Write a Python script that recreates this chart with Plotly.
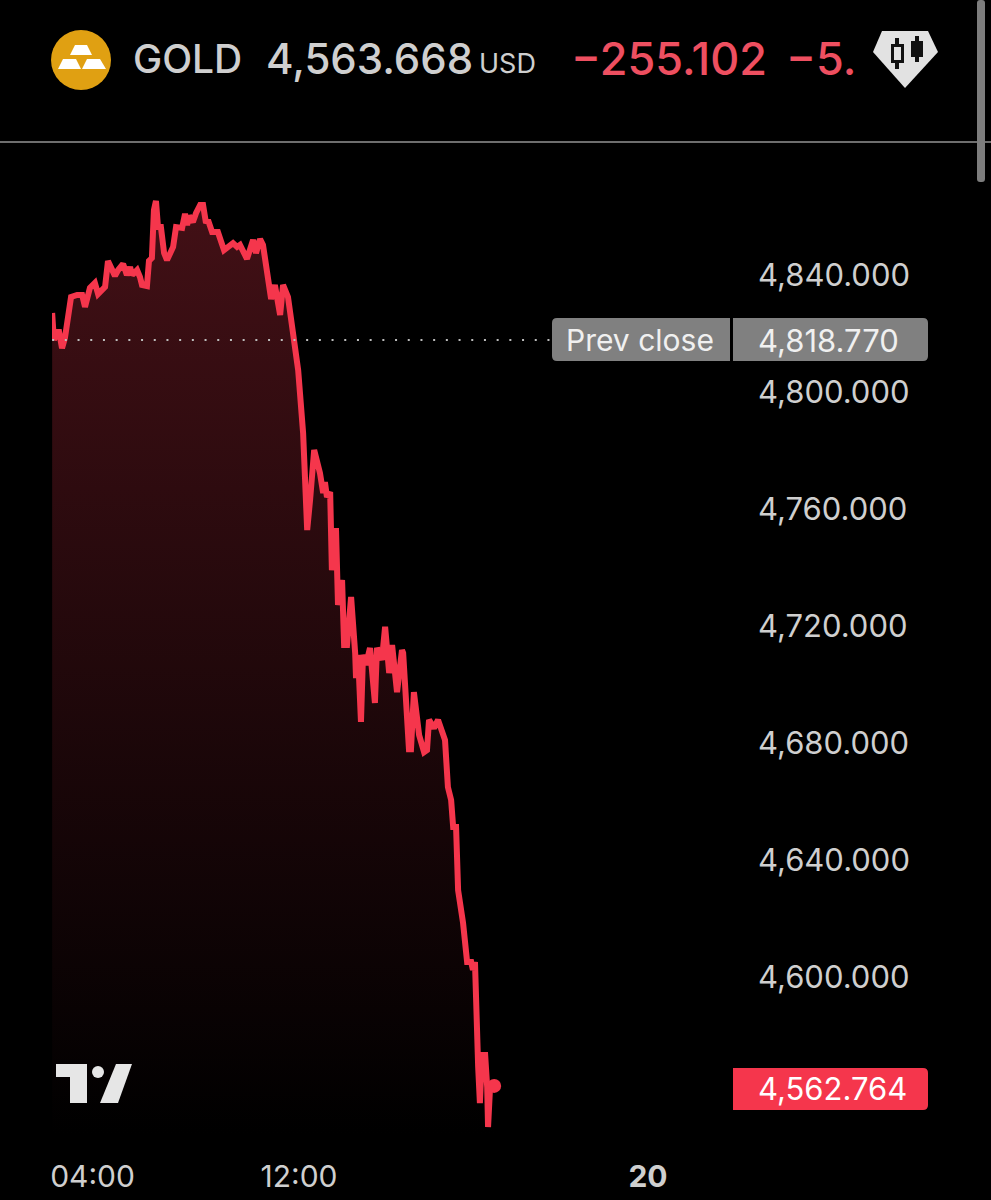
import plotly.graph_objects as go

# hours since midnight of the session day (24 = the "20" date tick)
hours = [
    3.51, 3.57, 3.68, 3.75, 3.85, 3.95, 4.16, 4.37, 4.54, 4.64, 4.81, 4.98, 5.09, 5.22, 5.33,
    5.43, 5.53, 5.67, 5.78, 5.95, 6.08, 6.19, 6.26, 6.43, 6.53, 6.60, 6.77, 6.84, 6.94, 7.01,
    7.08, 7.15, 7.25, 7.36, 7.46, 7.67, 7.77, 7.98, 8.08, 8.15, 8.22, 8.35, 8.46, 8.60, 8.70,
    8.80, 8.87, 9.01, 9.21, 9.42, 9.73, 9.87, 9.97, 10.21, 10.42, 10.52, 10.66, 10.76, 11.04, 11.17,
    11.35, 11.45, 11.62, 11.79, 11.97, 12.14, 12.28, 12.38, 12.52, 12.72, 12.83, 12.89, 12.96, 13.07, 13.13,
    13.27, 13.34, 13.48, 13.55, 13.65, 13.79, 13.93, 13.96, 14.03, 14.13, 14.20, 14.30, 14.44, 14.61, 14.68,
    14.85, 14.96, 15.10, 15.20, 15.37, 15.54, 15.58, 15.78, 15.85, 15.95, 16.13, 16.30, 16.40, 16.47, 16.64,
    16.78, 17.02, 17.12, 17.23, 17.30, 17.40, 17.47, 17.64, 17.78, 17.92, 17.98, 18.05, 18.16, 18.22, 18.29,
    18.40, 18.47, 18.50, 18.57, 18.71,
]
prices = [
    4827.0, 4817.8, 4820.5, 4820.5, 4815.0, 4818.5, 4832.5, 4833.2, 4833.2, 4829.1, 4835.6, 4837.3, 4833.5, 4835.2, 4835.9,
    4844.8, 4842.7, 4839.7, 4841.7, 4843.8, 4840.0, 4842.7, 4840.0, 4841.7, 4839.3, 4836.6, 4836.2, 4844.8, 4845.8, 4862.2,
    4865.3, 4856.4, 4856.4, 4847.5, 4845.1, 4849.6, 4856.4, 4856.1, 4860.9, 4857.1, 4860.2, 4858.1, 4861.2, 4863.9, 4863.9,
    4857.8, 4858.8, 4854.7, 4854.7, 4848.5, 4850.9, 4849.6, 4850.3, 4845.5, 4852.0, 4847.5, 4852.3, 4850.3, 4831.8, 4836.6,
    4826.3, 4836.6, 4832.5, 4820.2, 4807.5, 4786.0, 4752.8, 4763.1, 4780.2, 4772.3, 4765.5, 4769.2, 4764.1, 4765.8, 4739.1,
    4753.5, 4727.2, 4735.7, 4713.5, 4713.5, 4729.9, 4710.8, 4702.2, 4710.1, 4687.2, 4710.1, 4706.7, 4712.5, 4693.7, 4712.5,
    4708.4, 4719.7, 4703.9, 4713.5, 4697.4, 4711.8, 4710.8, 4677.9, 4677.9, 4697.4, 4682.7, 4676.9, 4677.6, 4687.9, 4685.1,
    4687.9, 4681.0, 4664.9, 4660.5, 4651.3, 4651.3, 4629.7, 4618.5, 4605.1, 4605.1, 4602.4, 4605.1, 4569.2, 4556.9, 4573.3,
    4573.3, 4562.4, 4548.7, 4562.4, 4562.76,
]
# where the dotted line sits in the picture, the tag itself reads 4,818.770
prev_close = 4817.8
prev_close_span = [3.51, 20.7]

price_ticks = [4600, 4640, 4680, 4720, 4760, 4800, 4840]
price_labels = ["4,600.000", "4,640.000", "4,680.000", "4,720.000", "4,760.000", "4,800.000", "4,840.000"]
# the app pushes 04:00 inwards so it stays on screen, hence 4.9 and not 4
time_ticks = [4.9, 12, 24]
time_labels = ["04:00", "12:00", "<b>20</b>"]

FONT = "Inter"
RED = "#f5364c"
TEXT = "#cfcfcf"
TAG_GREY = "#808080"

# plot area in page pixels
LEFT, RIGHT, TOP, BOTTOM = 52, 730, 190, 1140


def px(x):
    return (x - LEFT) / (RIGHT - LEFT)


def py(y):
    return (BOTTOM - y) / (BOTTOM - TOP)


def poly(points, color):
    path = "M " + " L ".join(f"{px(x):.5f},{py(y):.5f}" for x, y in points) + " Z"
    return dict(type="path", xref="paper", yref="paper", path=path,
                fillcolor=color, line=dict(width=0), layer="above")


def ellipse(x0, y0, x1, y1, color):
    return dict(type="circle", xref="paper", yref="paper", x0=px(x0), x1=px(x1), y0=py(y1), y1=py(y0),
                fillcolor=color, line=dict(width=0), layer="above")


def box(x0, y0, x1, y1, color):
    return poly([(x0, y0), (x1, y0), (x1, y1), (x0, y1)], color)


def tag(x0, y0, x1, y1, color, left_r=0, right_r=0):
    # rounded only on the outer side, the two grey halves butt against each other
    p = lambda x, y: f"{px(x):.5f},{py(y):.5f}"
    path = (f"M {p(x0 + left_r, y0)} L {p(x1 - right_r, y0)} Q {p(x1, y0)} {p(x1, y0 + right_r)} "
            f"L {p(x1, y1 - right_r)} Q {p(x1, y1)} {p(x1 - right_r, y1)} L {p(x0 + left_r, y1)} "
            f"Q {p(x0, y1)} {p(x0, y1 - left_r)} L {p(x0, y0 + left_r)} Q {p(x0, y0)} {p(x0 + left_r, y0)} Z")
    return dict(type="path", xref="paper", yref="paper", path=path,
                fillcolor=color, line=dict(width=0), layer="above")


def label(x, y, text, size, color=TEXT, anchor="left", weight=400):
    return dict(xref="paper", yref="paper", x=px(x), y=py(y), text=text, showarrow=False,
                xanchor=anchor, yanchor="middle", xshift=-3,
                font=dict(family=FONT, size=size, color=color, weight=weight))


fig = go.Figure()
fig.add_trace(go.Scatter(
    x=hours, y=prices, mode="lines", fill="tozeroy",
    line=dict(color=RED, width=6),
    fillgradient=dict(type="vertical", start=4868, stop=4546,
                      colorscale=[[0, "#431016"], [1, "#000000"]]),
))
fig.add_trace(go.Scatter(
    x=prev_close_span, y=[prev_close, prev_close], mode="lines",
    line=dict(color="#bdbdbd", width=2, dash="2px,10.7px"),
))
fig.add_trace(go.Scatter(
    x=hours[-1:], y=prices[-1:], mode="markers", marker=dict(color=RED, size=14),
))

shapes = [
    # header rule and scrollbar
    box(0, 141, 991, 143, "#6e6e6e"),
    tag(977, 0, 985, 182, "#7d7d7d", 3, 3),
    # gold icon
    ellipse(51, 30, 111, 90, "#e0a012"),
    poly([(75, 45), (87, 45), (92, 55), (70, 55)], "#ffffff"),
    poly([(63, 59), (76, 59), (81, 69), (58, 69)], "#ffffff"),
    poly([(87, 59), (100, 59), (106, 69), (82, 69)], "#ffffff"),
    # candle badge
    poly([(882, 31), (928, 31), (938, 52), (905, 88), (873, 52)], "#e2e2e2"),
    box(895, 38, 899, 69, "#111111"),
    box(891, 44, 904, 63, "#111111"),
    box(894, 47, 901, 60, "#e2e2e2"),
    box(915, 36, 919, 62, "#111111"),
    box(911, 41, 923, 57, "#111111"),
    # TradingView mark
    poly([(56, 1064), (87, 1064), (87, 1103), (70, 1103), (70, 1077), (56, 1077)], "#e6e6e6"),
    ellipse(92, 1066, 104, 1078, "#e6e6e6"),
    poly([(116, 1064), (132, 1064), (118, 1103), (100, 1103)], "#e6e6e6"),
    # price tags
    tag(552, 318, 730, 361, TAG_GREY, left_r=5),
    tag(733, 318, 928, 361, TAG_GREY, right_r=5),
    tag(733, 1068, 928, 1110, RED, right_r=5),
]

annotations = [
    label(134, 59, "GOLD", 39, weight=500),
    label(267, 59, "4,563.668", 42, weight=500),
    label(480, 64, "USD", 27),
    label(572, 59, "−255.102", 45, "#ee4f60", weight=500),
    label(787, 59, "−5.", 45, "#ee4f60", weight=500),
    label(643, 340, "Prev close", 30, "#f0f0f0", "center"),
    label(759, 340, "4,818.770", 31, "#f0f0f0"),
    label(759, 1088, "4,562.764", 31, "#ffffff"),
]

fig.update_layout(
    width=991, height=1200,
    margin=dict(l=LEFT, r=991 - RIGHT, t=TOP, b=1200 - BOTTOM),
    paper_bgcolor="#000000", plot_bgcolor="#000000",
    showlegend=False,
    shapes=shapes, annotations=annotations,
    font=dict(family=FONT, color=TEXT),
    xaxis=dict(
        range=[3.505, 26.82], showgrid=False, zeroline=False, showline=False, ticks="",
        tickmode="array", tickvals=time_ticks, ticktext=time_labels, automargin=False,
        tickfont=dict(family=FONT, size=30, color=TEXT), ticklabelstandoff=16,
    ),
    yaxis=dict(
        range=[4544.27, 4869.06], side="right", showgrid=False, zeroline=False, showline=False, ticks="",
        tickmode="array", tickvals=price_ticks, ticktext=price_labels, automargin=False,
        tickfont=dict(family=FONT, size=31, color=TEXT), ticklabelstandoff=27,
    ),
)

fig.write_html("out.html", config=dict(displayModeBar=False),
               post_script="document.body.style.margin='0';document.body.style.background='#000';")
